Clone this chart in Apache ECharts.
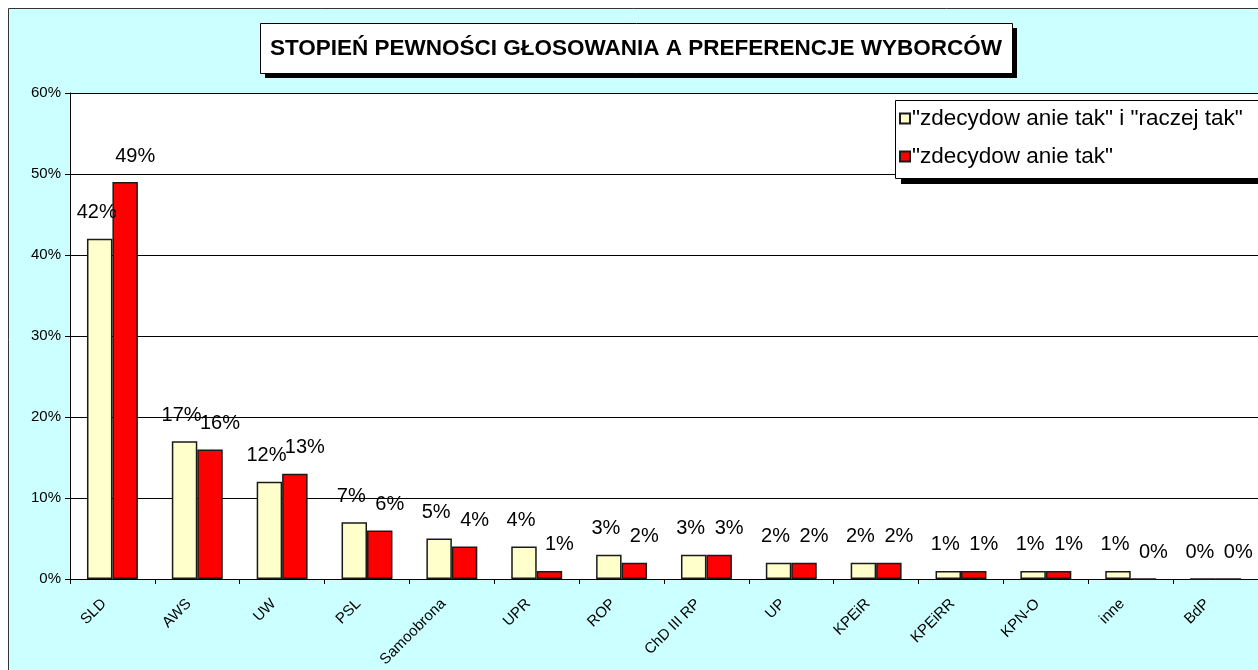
<!DOCTYPE html>
<html>
<head>
<meta charset="utf-8">
<style>
  html, body { margin: 0; padding: 0; background: #fff; }
  #chart { width: 1258px; height: 670px; }
</style>
<script src="https://cdn.jsdelivr.net/npm/echarts@6/dist/echarts.min.js"></script>
</head>
<body>
<div id="chart"></div>
<script>
// kategorie (partie) i wartosci w procentach
const categories = ['SLD', 'AWS', 'UW', 'PSL', 'Samoobrona', 'UPR', 'ROP', 'ChD III RP', 'UP', 'KPEiR', 'KPEiRR', 'KPN-O', 'inne', 'BdP'];
const sureOrRather = [42, 17, 12, 7, 5, 4, 3, 3, 2, 2, 1, 1, 1, 0];
const sureOnly = [49, 16, 13, 6, 4, 1, 2, 3, 2, 2, 1, 1, 0, 0];
const seriesNames = ['"zdecydow anie tak" i "raczej tak"', '"zdecydow anie tak"'];
const titleText = 'STOPIEŃ PEWNOŚCI GŁOSOWANIA A PREFERENCJE WYBORCÓW';

const FONT = 'Liberation Sans, Arial, sans-serif';
const chart = echarts.init(document.getElementById('chart'), null, { renderer: 'canvas' });

const labelStyle = {
    show: true,
    position: 'top',
    distance: 16,
    formatter: '{c}%',
    fontFamily: FONT,
    fontSize: 20,
    color: '#000'
};

const option = {
    backgroundColor: '#CCFFFF',
    animation: false,
    graphic: [
        // biale marginesy poza ramka wykresu
        { type: 'rect', z: 10, shape: { x: 0, y: 0, width: 1258, height: 8 }, style: { fill: '#fff' } },
        { type: 'rect', z: 10, shape: { x: 0, y: 0, width: 8, height: 670 }, style: { fill: '#fff' } },
        { type: 'rect', z: 10, shape: { x: 8.5, y: 8.5, width: 1300, height: 700 }, style: { fill: 'none', stroke: '#333', lineWidth: 1 } },
        // tytul w ramce z cieniem
        { type: 'rect', z: 10, shape: { x: 265, y: 28, width: 752, height: 50 }, style: { fill: '#000' } },
        { type: 'rect', z: 10, shape: { x: 260.5, y: 23.5, width: 752, height: 50 }, style: { fill: '#fff', stroke: '#000', lineWidth: 1 } },
        { type: 'text', z: 11, style: { text: titleText, x: 636, y: 49, align: 'center', verticalAlign: 'middle', font: 'bold 22.5px ' + FONT, fill: '#000' } },
        // ramka legendy
        { type: 'rect', z: 3, shape: { x: 901, y: 106, width: 400, height: 78 }, style: { fill: '#000' } },
        { type: 'rect', z: 3, shape: { x: 895.5, y: 100.5, width: 400, height: 78 }, style: { fill: '#fff', stroke: '#000', lineWidth: 1 } }
    ],
    legend: {
        data: seriesNames,
        orient: 'vertical',
        left: 899,
        top: 107,
        padding: 0,
        itemGap: 15,
        itemWidth: 10,
        itemHeight: 10,
        icon: 'rect',
        z: 5,
        textStyle: { fontFamily: FONT, fontSize: 22.5, color: '#000', padding: [0, 0, 0, -3] }
    },
    grid: {
        left: 70,
        top: 93,
        right: -9,
        bottom: 91,
        show: true,
        backgroundColor: '#fff',
        borderWidth: 0
    },
    xAxis: {
        type: 'category',
        data: categories,
        axisLine: { lineStyle: { color: '#000', width: 1 } },
        axisTick: { show: true, length: 5, lineStyle: { color: '#000' } },
        axisLabel: { rotate: 45, margin: 14, padding: [0, 12, 0, 0], fontFamily: FONT, fontSize: 15, color: '#000', interval: 0 }
    },
    yAxis: {
        type: 'value',
        min: 0,
        max: 60,
        interval: 10,
        axisLine: { show: true, lineStyle: { color: '#000', width: 1 } },
        axisTick: { show: true, length: 5, lineStyle: { color: '#000' } },
        axisLabel: { formatter: '{value}%', fontFamily: FONT, fontSize: 15, color: '#000', margin: 9 },
        splitLine: { show: true, lineStyle: { color: '#000', width: 1 } }
    },
    series: [
        {
            name: seriesNames[0],
            type: 'bar',
            data: sureOrRather,
            barGap: '0%',
            barCategoryGap: '40%',
            itemStyle: { color: '#FFFFCC', borderColor: '#1a1a1a', borderWidth: 1.5 },
            label: Object.assign({}, labelStyle, { offset: [-3, 0] })
        },
        {
            name: seriesNames[1],
            type: 'bar',
            data: sureOnly,
            itemStyle: { color: '#FF0000', borderColor: '#1a1a1a', borderWidth: 1.5 },
            label: Object.assign({}, labelStyle, { offset: [10, 0] })
        }
    ]
};

chart.setOption(option);
</script>
</body>
</html>
